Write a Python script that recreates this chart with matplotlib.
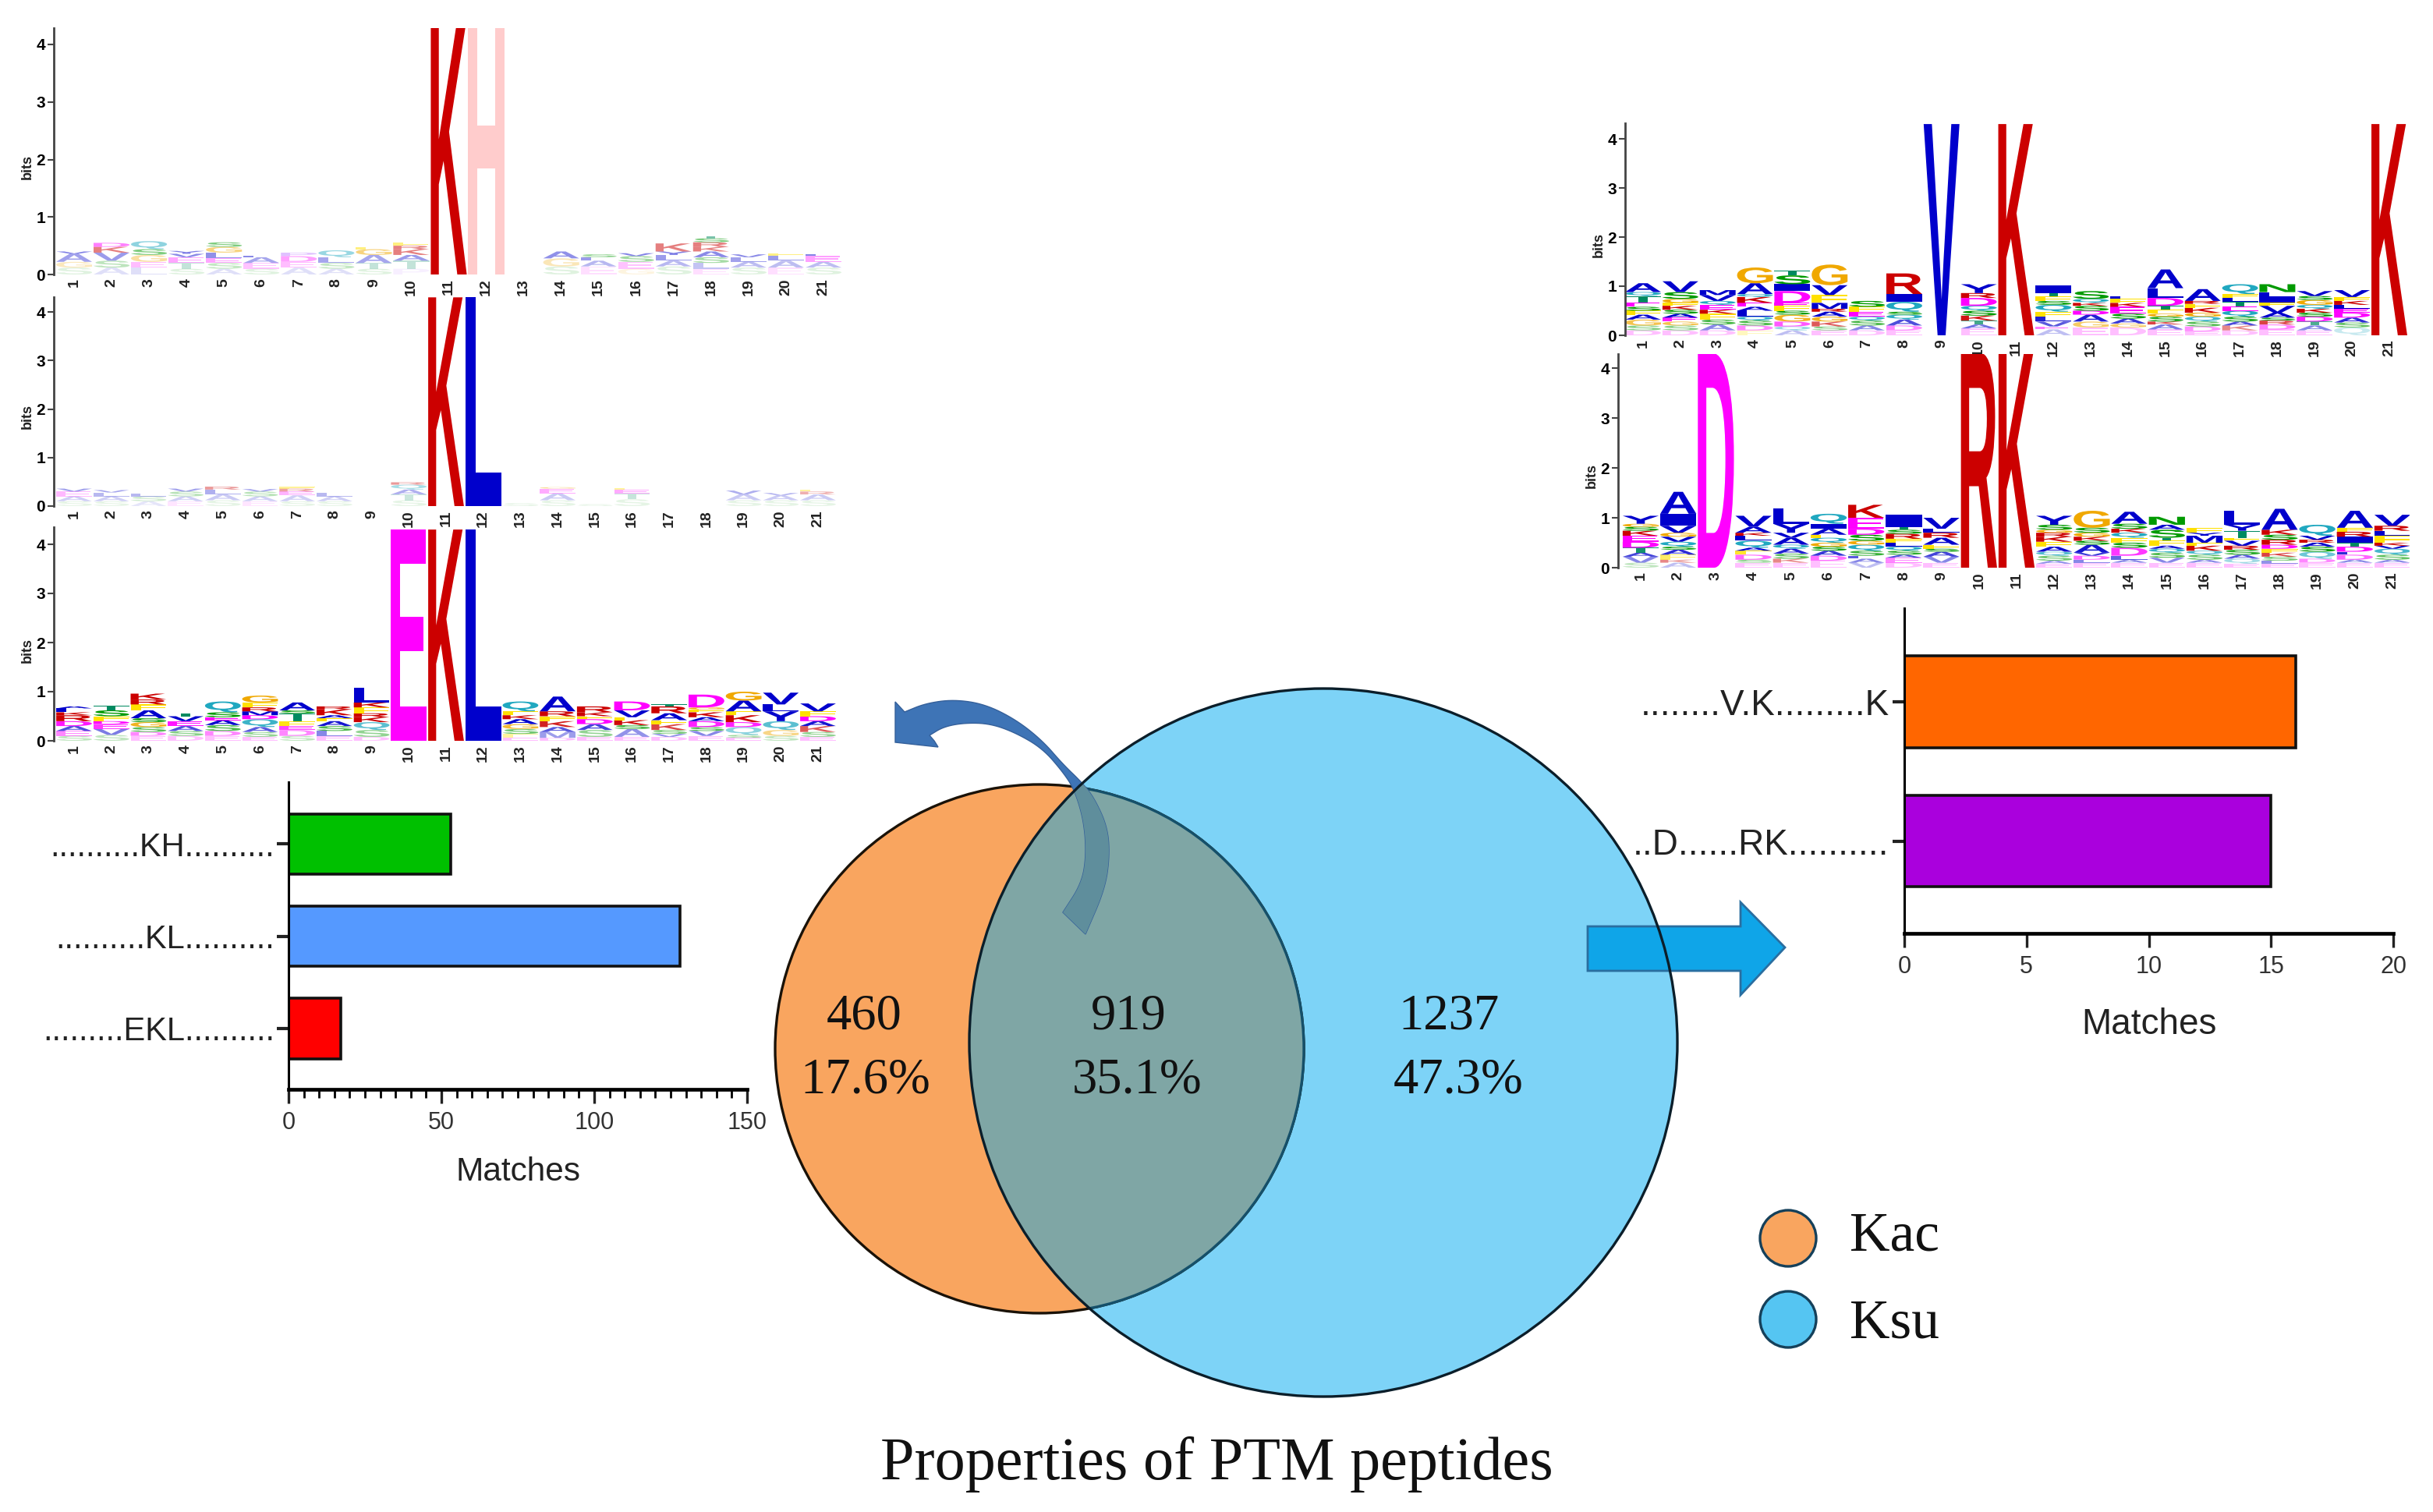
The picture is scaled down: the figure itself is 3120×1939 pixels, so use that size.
import matplotlib
matplotlib.use('Agg')
import matplotlib.pyplot as plt
from matplotlib.font_manager import FontProperties
from matplotlib.patches import Circle, PathPatch, Polygon
from matplotlib.textpath import TextPath
from matplotlib.ticker import MultipleLocator
from matplotlib.transforms import Affine2D

W, H = 3120, 1939
plt.rcParams['font.family'] = ['Liberation Sans', 'DejaVu Sans']

# bar chart values
left_labels = ['..........KH..........', '..........KL..........', '.........EKL..........']
left_values = [53, 128, 17]
left_colors = ['#00C000', '#5599FF', '#FF0000']
right_labels = ['........V.K.........K', '..D......RK..........']
right_values = [16, 15]
right_colors = ['#FF6600', '#AA00DD']

# venn values
venn_counts = ['460', '919', '1237']
venn_percents = ['17.6%', '35.1%', '47.3%']
legend_names = ['Kac', 'Ksu']

# logo stacks, bottom to top, letter + height in bits
logo_kh = ['S.12 G.1 A.14 V.04', 'A.12 S.12 V.14 K.1 D.07', 'L.12 E.1 G.12 S.1 Q.14',
           'S.1 T.1 E.1 V.06 Y.05', 'A.1 S.1 E.08 L.1 G.1 S.08', 'S.1 E.1 A.1 L.03',
           'A.12 E.1 D.1 P.06', 'A.1 S.1 L.1 Q.12', 'S.1 T.1 A.14 G.1 F.04',
           'P.1 T.14 A.1 K.1 R.06 F.06', 'K4.3', 'H4.3', '', 'S.14 G.14 A.12', 'E.14 A.1 L.06 S.05',
           'G.1 E.12 S.1 V.05', 'S.14 A.1 L.1 Y.06 K.14', 'E.1 L.1 S.1 A.1 K.08 R.08 S.07 T.04',
           'S.12 A.1 L.08 V.05', 'E.12 A.12 L.08 F.05', 'S.12 A.1 E.1 L.03']
logo_kl = ['S.1 A.1 E.1 V.06', 'S.1 A.1 L.08 V.05', 'A.1 S.1 L.05', 'E.1 A.1 S.1 V.06', 'S.12 A.12 L.1 R.06',
           'E.1 A.1 S.1 V.05', 'S.1 A.12 E.08 R.06 F.04', 'S.1 A.1 L.08', '', 'S.12 T.12 A.1 Q.1 R.05',
           'K4.3', 'L4.3', 'S.06', 'S.12 A.14 E.1 G.03', 'S.04', 'S.14 T.12 E.08 F.03', '', '',
           'S.12 A.12 V.08', 'S.12 A.1 V.05', 'S.12 A.12 R.06 F.04']
logo_ekl = ['S.1 E.1 A.1 D.1 R.12 K.06 L.08 A.04', 'S.12 V.12 E.1 D.06 F.1 S.12 T.1', 'E.1 D.08 S.1 G.1 S.08 A.16 F.12 R.1 K.12',
            'D.1 S.1 A.1 E.1 V.1 T.06', 'E.1 D.1 S.12 A.1 E.06 S.1 Q.22', 'E.08 S.1 A.1 Q.16 D.08 M.08 R.08 F.1 G.14',
            'S.1 D.12 E.08 F.1 T.16 S.06 A.16', 'E.1 L.1 S.1 A.1 F.06 A.06 K.12 R.06', 'D.08 S.14 Q.16 K.1 R.08 F.12 K.1 L.3',
            'E4.3', 'K4.3', 'L4.3', 'E.06 F.08 S.1 G.1 A.1 K.08 F.08 Q.2',
            'D.06 M.12 A.1 K.12 F.1 R.1 A.3', 'E.08 S.14 A.12 D.1 F.06 K.08 R.12', 'E.08 A.16 S.08 K.1 F.06 V.14 D.18',
            'D.08 V.06 S.08 K.12 F.08 A.14 R.14 T.04', 'E.1 V.1 S.08 D.12 A.08 K.1 F.06 G.04 D.26', 'E.06 S.06 Q.16 D.1 K.14 F.08 A.22 G.18',
            'S.1 G.12 Q.18 Y.2 L.14 V.24', 'E.08 S.1 K.12 A.1 D.1 F.1 V.16']
logo_vk = ['D.1 S.1 G.12 A.1 F.08 S.08 E.08 T.14 Q.08 A.18', 'D.1 S.1 G.08 E.08 A.08 S.08 K.08 F.06 G.08 S.14 V.22',
           'D.1 A.12 S.1 F.12 K.08 E.1 Q.08 V.12 M.1', 'F.1 D.1 S.1 Q.08 L.12 A.08 E.08 K.12 Q.06 A.22 G.32',
           'A.1 Q.08 D.1 G.14 S.08 F.1 E.06 D.24 I.14 S.18 T.1', 'E.1 S.08 K.1 G.1 A.1 R.06 M.12 F.16 V.2 G.42',
           'D.1 A.1 S.1 Q.08 E.1 F.1 S.12', 'E.1 D.1 A.12 Q.1 S.06 Q.2 I.16 R.42', 'V4.3', 'E.14 A.08 T.08 K.1 S.1 Q.1 D.16 R.1 Y.18',
           'K4.3', 'A.12 E.06 V.1 L.1 F.1 Q.14 S.08 F.1 T.06 I.16', 'E.16 G.12 A.14 D.08 S.1 K.06 Q.08 S.16', 'D.16 G.08 A.1 S.1 E.14 K.08 F.08 L.06',
           'E.12 A.1 K.06 S.1 G.06 F.08 T.08 D.16 L.2 A.38', 'E.08 D.1 S.1 Q.1 G.08 K.1 F.08 R.06 A.24', 'D.1 K.1 A.08 S.1 Q.12 E.08 T.1 L.08 F.08 Q.2',
           'E.12 D.1 R.08 S.06 A.1 V.14 F.06 I.12 L.1 N.16', 'E.1 A.1 T.08 D.1 S.08 K.08 Q.08 G.1 S.08 V.1', 'Q.16 S.1 A.1 D.1 E.08 L.08 K.08 F.08 V.14', 'K4.3']
logo_rk = ['S.1 V.12 A.08 T.1 D.12 E.12 K.1 S.08 G.06 Y.16', 'A.1 K.06 F.1 A.1 S.06 Q.1 V.1 G.08 V.14 I.24 A.44', 'D4.3',
           'E.1 S.06 D.1 F.08 A.06 Q.14 L.1 K.06 A.12 V.22', 'E.1 K.08 S.1 A.1 Q.08 A.14 V.1 Y.18 L.3', 'E.14 D.1 A.1 S.08 G.08 Q.1 F.06 A.12 I.1 Q.2',
           'V.1 A.08 L.06 S.1 Q.12 G.08 S.12 D.12 E.22 K.26', 'D.1 E.1 A.06 S.08 Q.08 L.08 F.08 R.1 S.08 T.06 I.24', 'E.1 V.12 A.1 S.06 F.08 A.14 R.1 L.08 V.22',
           'R4.3', 'K4.3', 'E.08 A.06 S.1 Q.08 A.1 F.1 K.1 R.08 G.06 S.1 Y.18', 'E.1 L.06 D.08 V.06 A.16 S.08 K.08 G.08 S.1 G.34',
           'E.1 A.06 L.08 D.16 S.1 F.1 Q.1 K.08 S.1 A.24', 'E.1 V.1 S.1 Q.08 A.06 F.1 T.06 S.16 A.1 N.16', 'E.1 A.06 S.1 Q.08 K.1 F.06 M.14 Y.06 F.1',
           'E.08 Q.1 A.08 S.1 R.08 V.1 F.06 T.14 Y.12 L.28', 'E.08 L.06 S.08 K.08 F.08 D.08 R.1 S.1 K.1 A.42', 'E.1 D.08 Q.14 S.1 A.08 R.06 V.08 Q.22',
           'E.1 A.06 D.1 L.06 D.1 T.08 I.12 R.1 F.08 A.34', 'E.1 A.06 S.1 Q.12 V.06 K.06 F.14 L.1 R.1 V.22']
logo_numbers = list(range(1, 22))

letter_colors = {'A': '#0000CC', 'V': '#0000CC', 'L': '#0000CC', 'I': '#0000CC', 'M': '#0000CC', 'Y': '#0000CC',
                 'W': '#0000CC', 'G': '#F0A800', 'S': '#009A00', 'T': '#008A60', 'N': '#009A00', 'Q': '#20A8C0',
                 'R': '#CC0000', 'K': '#CC0000', 'D': '#FF00FF', 'E': '#FF00FF', 'H': '#FFCCCC', 'F': '#FFE000',
                 'P': '#C080FF', 'C': '#FFE000'}
bold = FontProperties(family='Liberation Sans', weight='bold')


def axes_px(left, top, right, bottom):
    return fig.add_axes([left / W, 1 - bottom / H, (right - left) / W, (bottom - top) / H], facecolor='none')


def draw_letter(ax, letter, pos, base, height, alpha=1.0):
    tp = TextPath((0, 0), letter, size=1, prop=bold)
    box = tp.get_extents()
    tf = (Affine2D().translate(-box.x0, -box.y0).scale(0.96 / box.width, height / box.height)
          .translate(pos - 0.48, base))
    ax.add_patch(PathPatch(tp, transform=tf + ax.transData, fc=letter_colors[letter], lw=0, alpha=alpha))


def draw_logo(stacks, left, right, y0, y4, top, pos1, pos21, fade=1.0):
    per_bit = (y0 - y4) / 4
    per_pos = (pos21 - pos1) / 20
    ax = axes_px(left, top, right, y0)
    ax.set_xlim(1 + (left - pos1) / per_pos, 1 + (right - pos1) / per_pos)
    ax.set_ylim(0, (y0 - top) / per_bit)
    for pos, stack in zip(logo_numbers, stacks):
        base = 0
        for token in stack.split():
            letter, height = token[0], float(token[1:])
            # small letters low in the stack come out pale
            alpha = 1.0 if height >= 1 else min(1, 0.25 + base / 0.45) * fade
            draw_letter(ax, letter, pos, base, height, alpha=alpha)
            base += height
    for side in ['top', 'right', 'bottom']:
        ax.spines[side].set_visible(False)
    ax.spines['left'].set_color('#444444')
    ax.spines['left'].set_linewidth(2)
    ax.set_yticks([0, 1, 2, 3, 4])
    ax.tick_params(axis='y', labelsize=15, length=6, width=1.5, color='#444444', pad=2)
    ax.set_xticks(logo_numbers)
    ax.set_xticklabels(logo_numbers, rotation=90, fontsize=14, fontweight='bold', color='#222222')
    ax.tick_params(axis='x', length=0, pad=4)
    for lab in ax.get_yticklabels():
        lab.set_fontweight('bold')
    ax.text(left - 34, (y0 + y4) / 2 + 10, 'bits', rotation=90, fontsize=13, fontweight='bold', color='#222222',
            ha='center', va='center', transform=bg.transData)
    return ax


def draw_bars(labels, values, colors, left, top, right, bottom, xmax, major, minor, pad, label_size, xlabel_size, labelpad):
    ax = axes_px(left, top, right, bottom)
    rows = list(range(len(values)))
    ax.barh(rows, values, height=0.655, color=colors, edgecolor='#111111', linewidth=2.6)
    ax.set_xlim(0, xmax)
    ax.set_ylim(len(values) - 1 + 0.66, -0.67)
    ax.set_yticks(rows)
    ax.set_yticklabels(labels, fontsize=label_size, color='#222222')
    ax.xaxis.set_major_locator(MultipleLocator(major))
    if minor:
        ax.xaxis.set_minor_locator(MultipleLocator(minor))
    ax.tick_params(axis='x', which='major', length=13, width=2.4, labelsize=22, color='#222222', labelcolor='#333333', pad=7)
    ax.tick_params(axis='x', which='minor', length=8, width=2)
    ax.tick_params(axis='y', length=11, width=3, pad=pad, color='#222222')
    for side in ['top', 'right']:
        ax.spines[side].set_visible(False)
    ax.spines['left'].set_linewidth(2.2)
    ax.spines['bottom'].set_linewidth(3.4)
    ax.set_xlabel('Matches', fontsize=xlabel_size, color='#222222', labelpad=labelpad)
    return ax


def chaikin(points, rounds=3):
    # round off a hand traced outline, the ends stay where they are
    for _ in range(rounds):
        new = [points[0]]
        for (x0, y0), (x1, y1) in zip(points[:-1], points[1:]):
            new.append((0.75 * x0 + 0.25 * x1, 0.75 * y0 + 0.25 * y1))
            new.append((0.25 * x0 + 0.75 * x1, 0.25 * y0 + 0.75 * y1))
        new.append(points[-1])
        points = new
    return points


fig = plt.figure(figsize=(W / 100, H / 100), dpi=100, facecolor='white')

# full page axes in pixels for the venn, arrows and free text
bg = fig.add_axes([0, 0, 1, 1])
bg.set_xlim(0, W)
bg.set_ylim(H, 0)
bg.axis('off')

kac = (1333, 1345, 339)
ksu = (1697, 1337, 454)
bg.add_patch(Circle(kac[:2], kac[2], fc='#F9A55F', ec='none', zorder=1))
blue_fill = Circle(ksu[:2], ksu[2], fc='#7DD3F7', ec='none', zorder=2)
bg.add_patch(blue_fill)
overlap = Circle(kac[:2], kac[2], fc='#7FA6A5', ec='#15506A', lw=2.4, zorder=3)
bg.add_patch(overlap)
overlap.set_clip_path(blue_fill)
bg.add_patch(Circle(kac[:2], kac[2], fc='none', ec='#1A1208', lw=2.4, zorder=2.5))
bg.add_patch(Circle(ksu[:2], ksu[2], fc='none', ec='#0B1E2A', lw=2.4, zorder=6))

# curved arrow from the overlap to the left motifs
curve_outer = [(1160, 913), (1187, 902), (1223, 897), (1263, 903), (1303, 923), (1337, 950),
               (1363, 980), (1387, 1003), (1403, 1023), (1420, 1060), (1423, 1097), (1417, 1140), (1392, 1198)]
curve_inner = [(1363, 1170), (1387, 1133), (1393, 1097), (1390, 1053), (1378, 1013), (1363, 990), (1337, 960),
               (1303, 940), (1270, 928), (1237, 927), (1210, 932), (1192, 943)]
curve_pts = [(1148, 900)] + chaikin(curve_outer) + chaikin(curve_inner) + [(1198, 950), (1203, 958), (1148, 952)]
bg.add_patch(Polygon(curve_pts, closed=True, fc='#3E74B6', ec='#35609A', lw=1, zorder=4))
inner = Polygon(curve_pts, closed=True, fc='#5F8E9C', ec='none', zorder=5)
bg.add_patch(inner)
inner.set_clip_path(Circle(ksu[:2], ksu[2], transform=bg.transData))

# straight arrow to the right motifs
arrow_pts = [(2036, 1188), (2232, 1188), (2232, 1157), (2289, 1215), (2232, 1276), (2232, 1245), (2036, 1245)]
bg.add_patch(Polygon(arrow_pts, closed=True, fc='#0FA5E8', ec='#2A6EA0', lw=2, zorder=5))

serif = ['Liberation Serif', 'DejaVu Serif']
count_pos = [(1108, 1304), (1447, 1304), (1858, 1304)]
pct_pos = [(1110, 1386), (1458, 1386), (1870, 1386)]
for txt, (x, y) in zip(venn_counts, count_pos):
    bg.text(x, y, txt, family=serif, fontsize=46.5, ha='center', va='center', color='#111111', zorder=7)
for txt, (x, y) in zip(venn_percents, pct_pos):
    bg.text(x, y, txt, family=serif, fontsize=46.5, ha='center', va='center', color='#111111', zorder=7)
bg.text(1560, 1878, 'Properties of PTM peptides', family=serif, fontsize=56.3, ha='center', va='center', color='#111111')

# legend
bg.add_patch(Circle((2293, 1588), 36, fc='#F9A55F', ec='#15405A', lw=2.4))
bg.add_patch(Circle((2293, 1692), 36, fc='#55C5F2', ec='#15405A', lw=2.4))
bg.text(2372, 1586, legend_names[0], family=serif, fontsize=51.5, ha='left', va='center', color='#111111')
bg.text(2372, 1698, legend_names[1], family=serif, fontsize=51.5, ha='left', va='center', color='#111111')

# sequence logos
draw_logo(logo_kh, 69, 1080, 352, 57, 36, 95, 1056, fade=0.5)
draw_logo(logo_kl, 69, 1080, 649, 400, 381, 95, 1049, fade=0.4)
draw_logo(logo_ekl, 69, 1080, 950, 698, 676, 95, 1049)
draw_logo(logo_vk, 2084, 3090, 430, 178, 158, 2107, 3064)
draw_logo(logo_rk, 2075, 3090, 728, 472, 454, 2104, 3068)

# matches bars
draw_bars(left_labels, left_values, left_colors, 370, 1003, 958, 1397, 150, 50, 5, 2, 30, 30.5, 20)
draw_bars(right_labels, right_values, right_colors, 2442, 780, 3069, 1197, 20, 5, None, 3, 33, 33, 27)

fig.savefig('out.png', dpi=100)
